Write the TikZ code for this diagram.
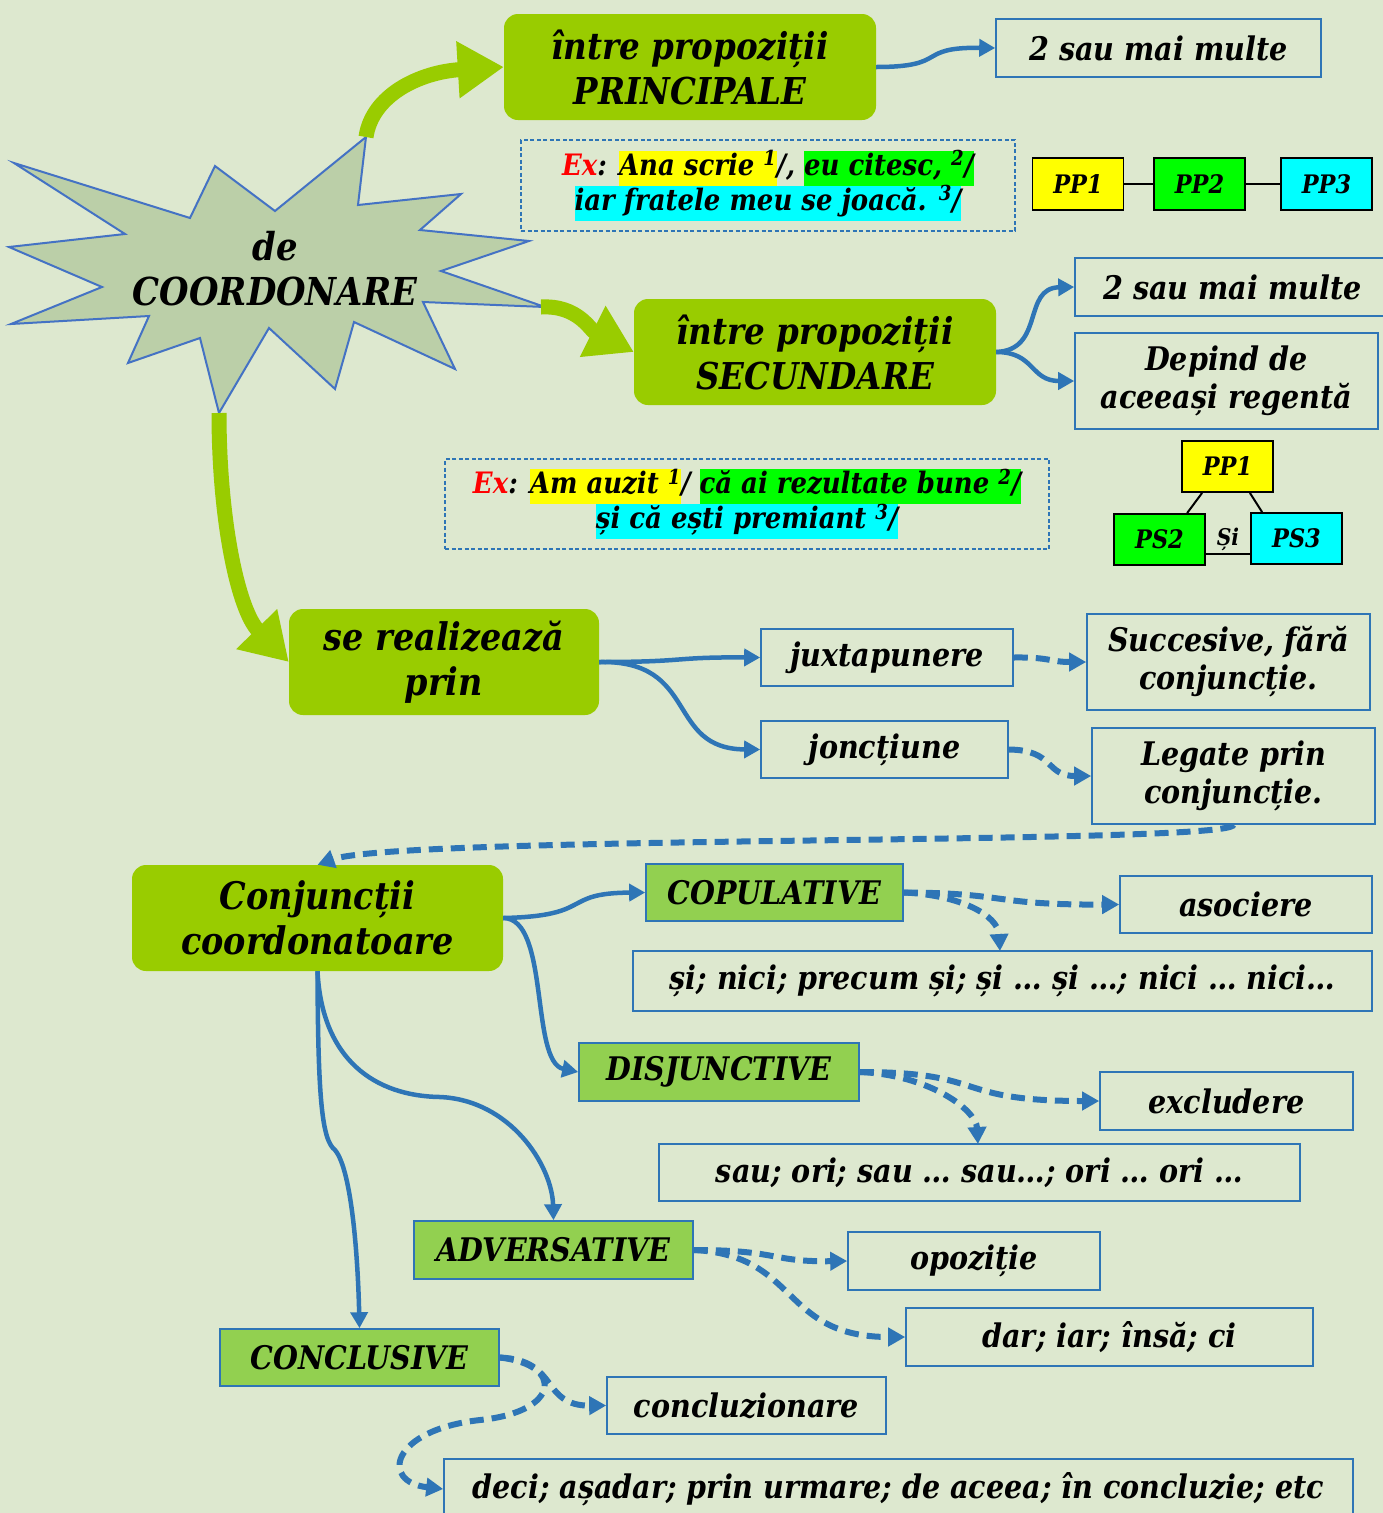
\documentclass[tikz,border=0pt]{standalone}
\usepackage{fontspec}
\setmainfont[FakeStretch=0.88]{DejaVu Serif}
\usetikzlibrary{arrows.meta}
\definecolor{bg}{RGB}{221,232,207}
\definecolor{gbig}{RGB}{153,204,0}
\definecolor{gsm}{RGB}{146,208,80}
\definecolor{starf}{RGB}{187,207,168}
\definecolor{starb}{RGB}{68,114,196}
\definecolor{blu}{RGB}{46,117,182}
\definecolor{hy}{RGB}{255,255,0}
\definecolor{hg}{RGB}{0,255,0}
\definecolor{hc}{RGB}{0,255,255}
\definecolor{exred}{RGB}{255,0,0}
\newcommand\fs[2]{\fontsize{#1}{#2}\selectfont\bfseries\itshape}
\newcommand\hl[2]{{\setlength\fboxsep{0pt}\colorbox{#1}{\strut #2}}}
\begin{document}
\begin{tikzpicture}[x=1pt,y=-1pt,
  gbox/.style={fill=gbig, rounded corners=14pt, inner sep=0pt, align=center, font=\fs{37}{45}},
  bbox/.style={draw=blu, line width=1.6pt, inner sep=0pt, align=center, font=\fs{32.5}{38}},
  lbox/.style={draw=blu, fill=gsm, line width=1.6pt, inner sep=0pt, font=\fs{32.5}{36}},
  exbox/.style={draw=blu, dash pattern=on 4pt off 2.5pt, line width=1.5pt, inner sep=0pt, align=center, font=\fs{29.5}{35}},
  ppbox/.style={draw=black, line width=1.8pt, inner sep=0pt, font=\fs{25.5}{28}, minimum width=91, minimum height=52},
  pline/.style={draw=black, line width=2pt},
  con/.style={draw=blu, line width=4.5pt, -{Triangle[length=16pt,width=17pt]}},
  dcon/.style={draw=blu, line width=6pt, dash pattern=on 14pt off 8pt, -{Triangle[length=17pt,width=18pt]}},
  garrow/.style={draw=gbig, line width=15pt, -{Triangle[length=46pt,width=54pt]}}]
\useasboundingbox (0,0) rectangle (1383,1513);
\fill[bg] (0,0) rectangle (1383,1513);

% starburst
\draw[fill=starf, draw=starb, line width=2pt] (14,163) -- (125,234) -- (9,247) -- (102,287) -- (11,324) -- (149,316) -- (128,363) -- (200,338) -- (219,413) -- (269,328) -- (335,389) -- (354,322) -- (455,369) -- (423,302) -- (545,307) -- (441,271) -- (529,241) -- (420,230) -- (461,194) -- (358,205) -- (366,137) -- (275,211) -- (215,166) -- (190,218) -- cycle;
\node[align=center, font=\fs{38.5}{45}] (star) at (275,269) {de\\COORDONARE};
\coordinate (startop) at (366,137);
\coordinate (starright) at (541,307);
\coordinate (starbot) at (219,413);

% big green boxes
\node[gbox, minimum width=372, minimum height=106] (prin) at (690,67) {între propoziții\\PRINCIPALE};
\node[gbox, minimum width=362, minimum height=106] (sec) at (815,352) {între propoziții\\SECUNDARE};
\node[gbox, minimum width=310, minimum height=106, font=\fs{38}{45}] (real) at (444,662) {se realizează\\prin};
\node[gbox, minimum width=371, minimum height=106, font=\fs{38}{45}] (conj) at (317.5,918) {Conjuncții\\coordonatoare};

% green arrows
\draw[garrow] (startop) .. controls (372,95) and (420,72) .. (prin.west);
\draw[garrow] (starright) .. controls (578,305) and (590,330) .. (sec.west);
\draw[garrow] (starbot) .. controls (219,520) and (238,610) .. (real.west);

% examples
\node[exbox, minimum width=494, minimum height=91] (ex1) at (768,185.5) {{\color{exred}Ex}: \hl{hy}{Ana scrie \textsuperscript{1}}/, \hl{hg}{eu citesc, \textsuperscript{2}/}\\\hl{hc}{iar fratele meu se joacă. \textsuperscript{3}/}};
\node[exbox, minimum width=604, minimum height=90] (ex2) at (747,504) {{\color{exred}Ex}: \hl{hy}{Am auzit \textsuperscript{1}}/ \hl{hg}{că ai rezultate bune \textsuperscript{2}/}\\\hl{hc}{și că ești premiant \textsuperscript{3}/}};

% PP diagrams
\node[ppbox, fill=hy] (pp1) at (1078,184) {PP1};
\node[ppbox, fill=hg] (pp2) at (1199.5,184) {PP2};
\node[ppbox, fill=hc] (pp3) at (1326.5,184) {PP3};
\draw[pline] (pp1.east) -- (pp2.west);
\draw[pline] (pp2.east) -- (pp3.west);
\node[ppbox, fill=hy, minimum height=51] (tp1) at (1227.5,466.5) {PP1};
\node[ppbox, fill=hg, minimum height=51] (ps2) at (1159.5,539.5) {PS2};
\node[ppbox, fill=hc, minimum height=51] (ps3) at (1296.5,538.5) {PS3};
\draw[pline] ([xshift=21pt]tp1.south west) -- ([xshift=74pt]ps2.north west);
\draw[pline] ([xshift=-24pt]tp1.south east) -- ([xshift=12pt]ps3.north west);
\draw[pline] ([yshift=12pt]ps2.south east) -- ([yshift=11pt]ps3.south west);
\node[font=\fs{23}{26}] (si) at (1228,539) {Și};

% blue boxes
\node[bbox, minimum width=325, minimum height=58] (p2) at (1158.5,48) {2 sau mai multe};
\node[bbox, minimum width=315, minimum height=58] (s2) at (1232.5,287) {2 sau mai multe};
\node[bbox, minimum width=303, minimum height=96] (dep) at (1226.5,381) {Depind de\\aceeași regentă};
\node[bbox, minimum width=252, minimum height=57] (jux) at (887,657.5) {juxtapunere};
\node[bbox, minimum width=283, minimum height=96] (succ) at (1228.5,662) {Succesive, fără\\conjuncție.};
\node[bbox, minimum width=247, minimum height=57] (jon) at (884.5,749.5) {joncțiune};
\node[bbox, minimum width=283, minimum height=96] (leg) at (1233.5,776) {Legate prin\\conjuncție.};

\node[lbox, minimum width=257, minimum height=57] (cop) at (774.5,892.5) {COPULATIVE};
\node[bbox, minimum width=252, minimum height=57] (aso) at (1246,904.5) {asociere};
\node[bbox, minimum width=739, minimum height=60] (copl) at (1002.5,981) {și; nici; precum și; și … și …; nici … nici…};
\node[lbox, minimum width=280, minimum height=58] (dis) at (719,1072) {DISJUNCTIVE};
\node[bbox, minimum width=253, minimum height=58] (exc) at (1226.5,1101) {excludere};
\node[bbox, minimum width=641, minimum height=57] (disl) at (979.5,1172.5) {sau; ori; sau … sau…; ori … ori …};
\node[lbox, minimum width=279, minimum height=58] (adv) at (553.5,1250) {ADVERSATIVE};
\node[bbox, minimum width=252, minimum height=58] (opo) at (974,1261) {opoziție};
\node[bbox, minimum width=407, minimum height=58] (advl) at (1109.5,1337) {dar; iar; însă; ci};
\node[lbox, minimum width=279, minimum height=57] (conc) at (359.5,1357.5) {CONCLUSIVE};
\node[bbox, minimum width=279, minimum height=57] (ccz) at (746.5,1405.5) {concluzionare};
\node[bbox, minimum width=909, minimum height=60] (concl) at (898.5,1489) {deci; așadar; prin urmare; de aceea; în concluzie; etc};

% solid connectors
\draw[con] (prin.east) .. controls (950,67) and (915,47) .. (p2.west);
\draw[con] (sec.east) .. controls (1045,350) and (1022,288) .. (s2.west);
\draw[con] (sec.east) .. controls (1035,352) and (1030,381) .. (dep.west);
\draw[con] (real.east) .. controls (690,662) and (670,657) .. (jux.west);
\draw[con] (real.east) .. controls (700,660) and (665,749) .. (jon.west);
\draw[con] (conj.east) .. controls (595,916) and (560,893) .. (cop.west);
\draw[con] (conj.east) .. controls (550,918) and (530,1062) .. (dis.west);
\draw[con] (conj.south) .. controls (322,1060) and (375,1096) .. (440,1097) .. controls (510,1100) and (552,1165) .. (adv.north);
\draw[con] (conj.south) .. controls (318,1100) and (322,1140) .. (335,1150) .. controls (352,1170) and (358,1260) .. (conc.north);

% dashed connectors
\draw[dcon] (jux.east) .. controls (1050,657) and (1050,662) .. (succ.west);
\draw[dcon] (jon.east) .. controls (1055,750) and (1045,776) .. (leg.west);
\draw[dcon] (leg.south) .. controls (1232,845) and (400,835) .. (conj.north);
\draw[dcon] (cop.east) .. controls (1010,893) and (990,905) .. (aso.west);
\draw[dcon] (cop.east) .. controls (960,895) and (998,915) .. (1000,951);
\draw[dcon] (dis.east) .. controls (990,1072) and (950,1101) .. (exc.west);
\draw[dcon] (dis.east) .. controls (930,1075) and (976,1110) .. (978,1144);
\draw[dcon] (adv.east) .. controls (780,1250) and (770,1262) .. (opo.west);
\draw[dcon] (adv.east) .. controls (800,1255) and (780,1337) .. (advl.west);
\draw[dcon] (conc.east) .. controls (560,1360) and (540,1406) .. (ccz.west);
\draw[dcon] (conc.east) .. controls (565,1365) and (560,1412) .. (480,1420) .. controls (390,1430) and (380,1482) .. (concl.west);
\end{tikzpicture}
\end{document}
